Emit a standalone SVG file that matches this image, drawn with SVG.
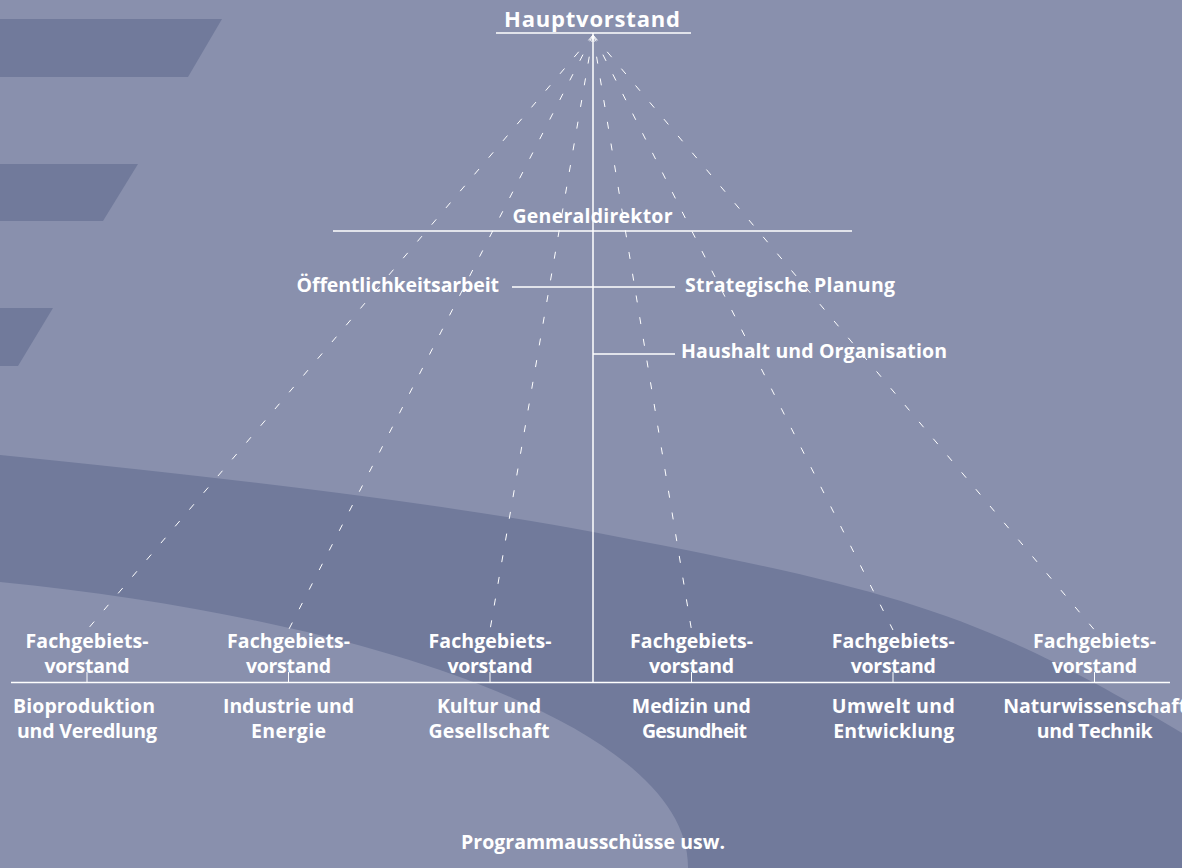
<svg xmlns="http://www.w3.org/2000/svg" width="1182" height="868" viewBox="0 0 1182 868">
  <style>
    .t { font-family: "Open Sans", "Liberation Sans", sans-serif; font-weight: 700; font-size: 19.5px; fill: #ffffff; }
    .m { text-anchor: middle; }
    .ln { stroke: #ffffff; stroke-width: 1.5; fill: none; }
    .tick { stroke: #ffffff; stroke-width: 1; fill: none; }
    .dash { stroke: #ffffff; stroke-width: 1; fill: none; stroke-dasharray: 7 15; }
    .dark { fill: #717a9b; }
  </style>
  <g id="background">
    <rect width="1182" height="868" fill="#8990ad"/>
    <path class="dark" d="M0,455 Q396,494.6 593,532 C893,589 982,613 1182,733 L1182,868 L688,868 C690,730 380,620 0,582 Z"/>
    <polygon class="dark" points="0,19 222,19 188,77 0,77"/>
    <polygon class="dark" points="0,164 138,164 103,221 0,221"/>
    <polygon class="dark" points="0,308 53,308 18,366 0,366"/>
  </g>
  <g id="connectors">
    <line class="ln" x1="496" y1="33" x2="691" y2="33"/>
    <line class="ln" x1="593" y1="33" x2="593" y2="683"/>
    <line class="ln" x1="333" y1="231" x2="852" y2="231"/>
    <line class="ln" x1="512" y1="287" x2="675" y2="287"/>
    <line class="ln" x1="593" y1="354" x2="675" y2="354"/>
    <line class="ln" x1="11" y1="682.5" x2="1170" y2="682.5"/>
    <line class="dash" x1="593" y1="35" x2="87" y2="630"/>
    <line class="dash" x1="593" y1="35" x2="288.5" y2="630"/>
    <line class="dash" x1="593" y1="35" x2="490" y2="630"/>
    <line class="dash" x1="593" y1="35" x2="691.5" y2="630"/>
    <line class="dash" x1="593" y1="35" x2="893" y2="630"/>
    <line class="dash" x1="593" y1="35" x2="1094.5" y2="630"/>
    <line class="tick" x1="87" y1="672" x2="87" y2="682"/>
    <line class="tick" x1="288.5" y1="672" x2="288.5" y2="682"/>
    <line class="tick" x1="490" y1="672" x2="490" y2="682"/>
    <line class="tick" x1="691.5" y1="672" x2="691.5" y2="682"/>
    <line class="tick" x1="893" y1="672" x2="893" y2="682"/>
    <line class="tick" x1="1094.5" y1="672" x2="1094.5" y2="682"/>
  </g>
  <g id="hauptvorstand">
    <text class="t m" x="592" y="27" style="font-size:22px" textLength="176" lengthAdjust="spacing">Hauptvorstand</text>
  </g>
  <g id="generaldirektor">
    <text class="t m" x="592.5" y="222.5" textLength="160" lengthAdjust="spacing">Generaldirektor</text>
  </g>
  <g id="oeffentlichkeitsarbeit">
    <text class="t" x="296.5" y="292" textLength="202.5" lengthAdjust="spacing">Öffentlichkeitsarbeit</text>
  </g>
  <g id="strategische-planung">
    <text class="t" x="685" y="292" textLength="210" lengthAdjust="spacing">Strategische Planung</text>
  </g>
  <g id="haushalt">
    <text class="t" x="681" y="357.5" textLength="266" lengthAdjust="spacing">Haushalt und Organisation</text>
  </g>
  <g id="fv1">
    <text class="t m" x="87" y="648.3" textLength="123" lengthAdjust="spacing">Fachgebiets-</text>
    <text class="t m" x="87" y="673.3" textLength="85" lengthAdjust="spacing">vorstand</text>
    <text class="t m" x="84" y="712.5" textLength="142" lengthAdjust="spacing">Bioproduktion</text>
    <text class="t m" x="87" y="738" textLength="140" lengthAdjust="spacing">und Veredlung</text>
  </g>
  <g id="fv2">
    <text class="t m" x="288.5" y="648.3" textLength="123" lengthAdjust="spacing">Fachgebiets-</text>
    <text class="t m" x="288.5" y="673.3" textLength="85" lengthAdjust="spacing">vorstand</text>
    <text class="t m" x="288.5" y="712.5" textLength="131" lengthAdjust="spacing">Industrie und</text>
    <text class="t m" x="288.5" y="738" textLength="75" lengthAdjust="spacing">Energie</text>
  </g>
  <g id="fv3">
    <text class="t m" x="490" y="648.3" textLength="123" lengthAdjust="spacing">Fachgebiets-</text>
    <text class="t m" x="490" y="673.3" textLength="85" lengthAdjust="spacing">vorstand</text>
    <text class="t m" x="489" y="712.5" textLength="104" lengthAdjust="spacing">Kultur und</text>
    <text class="t m" x="489" y="738" textLength="121" lengthAdjust="spacing">Gesellschaft</text>
  </g>
  <g id="fv4">
    <text class="t m" x="691.5" y="648.3" textLength="123" lengthAdjust="spacing">Fachgebiets-</text>
    <text class="t m" x="691.5" y="673.3" textLength="85" lengthAdjust="spacing">vorstand</text>
    <text class="t m" x="691.3" y="712.5" textLength="119" lengthAdjust="spacing">Medizin und</text>
    <text class="t m" x="694.5" y="738" textLength="105" lengthAdjust="spacing">Gesundheit</text>
  </g>
  <g id="fv5">
    <text class="t m" x="893.3" y="648.3" textLength="123" lengthAdjust="spacing">Fachgebiets-</text>
    <text class="t m" x="893.3" y="673.3" textLength="85" lengthAdjust="spacing">vorstand</text>
    <text class="t m" x="893.3" y="712.5" textLength="123" lengthAdjust="spacing">Umwelt und</text>
    <text class="t m" x="893.7" y="738" textLength="121" lengthAdjust="spacing">Entwicklung</text>
  </g>
  <g id="fv6">
    <text class="t m" x="1094.5" y="648.3" textLength="123" lengthAdjust="spacing">Fachgebiets-</text>
    <text class="t m" x="1094.5" y="673.3" textLength="85" lengthAdjust="spacing">vorstand</text>
    <text class="t" x="1003.3" y="712.5" textLength="184" lengthAdjust="spacing">Naturwissenschaft</text>
    <text class="t m" x="1094.7" y="738" textLength="116" lengthAdjust="spacing">und Technik</text>
  </g>
  <g id="programmausschuesse">
    <text class="t m" x="593" y="849.3" textLength="264" lengthAdjust="spacing">Programmausschüsse usw.</text>
  </g>
</svg>
